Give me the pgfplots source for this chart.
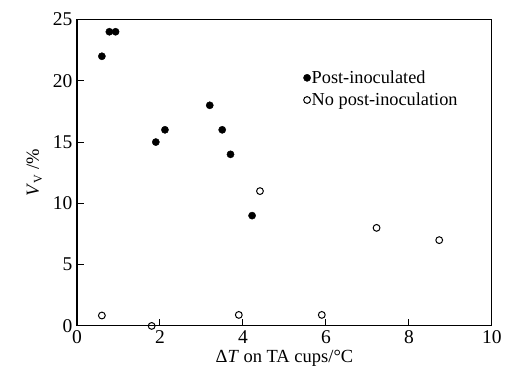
\documentclass[border=0pt]{standalone}
\usepackage{fontspec}
\setmainfont{Liberation Serif}
\usepackage{pgfplots}
\pgfplotsset{compat=1.18}
\begin{document}
\begin{tikzpicture}
\begin{axis}[
  scale only axis,
  width=415pt, height=306.5pt,
  xmin=0, xmax=10, ymin=0, ymax=25,
  xtick={0,2,...,10}, ytick={0,5,...,25},
  tick pos=left, tick align=inside,
  major tick length=7pt,
  axis line style={line width=1.1pt},
  every tick/.style={line width=1pt, black},
  /pgf/number format/assume math mode=true,
  tick label style={font=\fontsize{19.5}{22}\selectfont},
  xticklabel style={yshift=-1pt},
  yticklabel style={xshift=-1pt},
  label style={font=\fontsize{18.5}{22}\selectfont},
  xlabel={Δ\textit{T} on TA cups/°C},
  ylabel={\textit{V}\raisebox{-0.35ex}{\fontsize{12}{13}\selectfont V} /\%},
  xlabel style={yshift=0pt},
  ylabel style={yshift=4pt},
  legend style={at={(0.543,0.84)}, anchor=north west, draw=none, fill=none,
    font=\fontsize{18.3}{20}\selectfont, row sep=6pt, inner sep=1pt,
    nodes={inner sep=1pt},
    /tikz/every even column/.append style={column sep=3pt}},
  legend cell align=left,
]
\addplot[only marks, mark=*, mark size=3.6pt, mark options={fill=black, draw=black}]
coordinates {(0.6,22) (0.78,24) (0.93,24) (1.9,15) (2.12,16) (3.2,18) (3.5,16) (3.7,14) (4.22,9)};
\addlegendentry{Post-inoculated}
\addplot[only marks, mark=o, mark size=3.4pt, mark options={draw=black, line width=1pt}]
coordinates {(0.6,0.85) (1.8,0) (3.9,0.9) (4.41,11) (5.9,0.9) (7.22,8) (8.73,7)};
\addlegendentry{No post-inoculation}
\end{axis}
\path[use as bounding box] (-77pt,-53pt) rectangle (428pt,326pt);
\end{tikzpicture}
\end{document}
